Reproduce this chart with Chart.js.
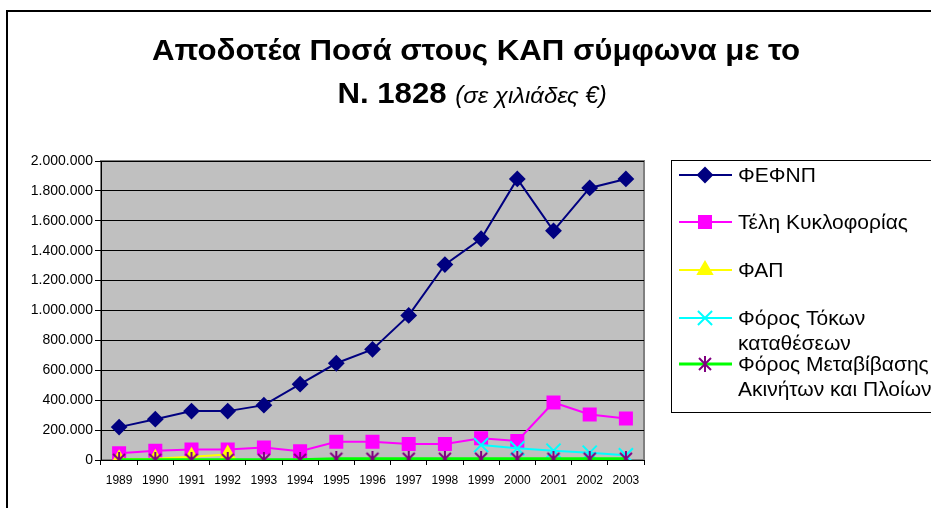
<!DOCTYPE html>
<html>
<head>
<meta charset="utf-8">
<script src="https://cdn.jsdelivr.net/npm/chart.js@4/dist/chart.umd.min.js"></script>
<style>
  html, body { margin: 0; padding: 0; background: #fff; overflow: hidden; }
  canvas { display: block; }
</style>
</head>
<body>
<canvas id="chart" width="931" height="508"></canvas>
<script>
// data (thousands of €)
const years = ['1989', '1990', '1991', '1992', '1993', '1994', '1995', '1996', '1997', '1998', '1999', '2000', '2001', '2002', '2003'];
const seriesNames = ['ΦΕΦΝΠ', 'Τέλη Κυκλοφορίας', 'ΦΑΠ', 'Φόρος Τόκων καταθέσεων', 'Φόρος Μεταβίβασης Ακινήτων και Πλοίων'];
const fefnp = [220000, 273000, 327000, 327000, 367000, 507000, 647000, 740000, 967000, 1307000, 1480000, 1880000, 1533000, 1820000, 1880000];
const teli = [45000, 62000, 71000, 71000, 84000, 58000, 122000, 122000, 107000, 107000, 145000, 127000, 385000, 305000, 278000];
const fap = [5000, 8000, 22000, 37000, null, null, null, null, null, null, null, null, null, null, null];
const tokon = [null, null, null, null, null, null, null, null, null, null, 100000, 78000, 62000, 49000, 31000];
const metav = [1000, 1000, 1000, 1000, 1000, 1000, 8000, 8000, 8000, 8000, 8000, 8000, 8000, 8000, 8000];
const yTicks = [0, 200000, 400000, 600000, 800000, 1000000, 1200000, 1400000, 1600000, 1800000, 2000000];

const FONT = '"Liberation Sans", Arial, sans-serif';

// Excel style asterisk marker (X plus vertical bar)
function asterisk(color) {
    const c = document.createElement('canvas');
    c.width = 16;
    c.height = 16;
    const g = c.getContext('2d');
    g.strokeStyle = color;
    g.lineWidth = 2;
    g.beginPath();
    g.moveTo(2, 2); g.lineTo(14, 14);
    g.moveTo(14, 2); g.lineTo(2, 14);
    g.moveTo(8, 0); g.lineTo(8, 16);
    g.stroke();
    return c;
}

// styles per series
const styles = [
    { line: '#000080', fill: '#000080', edge: '#000080', shape: 'rectRot', r: 7, lw: 2 },
    { line: '#FF00FF', fill: '#FF00FF', edge: '#FF00FF', shape: 'rect', r: 8.5, lw: 2 },
    { line: '#FFFF00', fill: '#FFFF00', edge: '#FFFF00', shape: 'triangle', r: 8, lw: 2 },
    { line: '#00FFFF', fill: '#00FFFF', edge: '#00FFFF', shape: 'crossRot', r: 10, lw: 2 },
    { line: '#00FF00', fill: '#800080', edge: '#800080', shape: asterisk('#800080'), r: 8, lw: 3 }
];
const values = [fefnp, teli, fap, tokon, metav];

function dots(n) {
    return String(n).replace(/\B(?=(\d{3})+(?!\d))/g, '.');
}

// gray plot area + outer frame
const backdrop = {
    id: 'backdrop',
    beforeDraw(chart) {
        const { ctx, chartArea: a } = chart;
        ctx.save();
        ctx.fillStyle = '#C0C0C0';
        ctx.fillRect(a.left, a.top, a.right - a.left, a.bottom - a.top);
        ctx.strokeStyle = '#808080';
        ctx.lineWidth = 2;
        ctx.strokeRect(a.left, a.top, a.right - a.left, a.bottom - a.top);
        ctx.strokeStyle = '#000';
        ctx.lineWidth = 2;
        ctx.beginPath();
        ctx.moveTo(7, 520);
        ctx.lineTo(7, 11);
        ctx.lineTo(940, 11);
        ctx.stroke();
        ctx.restore();
    }
};

// two-line title with mixed bold / italic
const titlePlugin = {
    id: 'titleText',
    afterDraw(chart) {
        const ctx = chart.ctx;
        ctx.save();
        ctx.fillStyle = '#000';
        ctx.textBaseline = 'alphabetic';

        ctx.font = 'bold 30px ' + FONT;
        const l1 = 'Αποδοτέα Ποσά στους ΚΑΠ σύμφωνα με το';
        const w1 = ctx.measureText(l1).width;
        const sx = 648 / w1;
        ctx.save();
        ctx.translate(476, 60);
        ctx.scale(sx, 1);
        ctx.textAlign = 'center';
        ctx.fillText(l1, 0, 0);
        ctx.restore();

        const a = 'N. 1828 ';
        const b = '(σε χιλιάδες €)';
        ctx.font = 'bold 30px ' + FONT;
        const wa = ctx.measureText(a).width;
        ctx.font = 'italic 23px ' + FONT;
        const wb = ctx.measureText(b).width;
        ctx.save();
        ctx.translate(472, 103);
        ctx.scale(sx, 1);
        ctx.textAlign = 'left';
        const x0 = -(wa + wb) / 2;
        ctx.font = 'bold 30px ' + FONT;
        ctx.fillText(a, x0, 0);
        ctx.font = 'italic 23px ' + FONT;
        ctx.fillText(b, x0 + wa, 0);
        ctx.restore();
        ctx.restore();
    }
};

// Excel-like legend box with line + marker
const legendBox = {
    id: 'legendBox',
    afterDraw(chart) {
        const ctx = chart.ctx;
        ctx.save();
        ctx.fillStyle = '#fff';
        ctx.fillRect(671, 160, 300, 252);
        ctx.strokeStyle = '#000';
        ctx.lineWidth = 1;
        ctx.strokeRect(671.5, 160.5, 300, 252);

        const rows = [
            { y: 175, lines: ['ΦΕΦΝΠ'] },
            { y: 222, lines: ['Τέλη Κυκλοφορίας'] },
            { y: 270, lines: ['ΦΑΠ'] },
            { y: 318, lines: ['Φόρος Τόκων', 'καταθέσεων'] },
            { y: 364, lines: ['Φόρος Μεταβίβασης', 'Ακινήτων και Πλοίων'] }
        ];
        rows.forEach((row, i) => {
            const st = styles[i];
            ctx.strokeStyle = st.line;
            ctx.lineWidth = st.lw;
            ctx.beginPath();
            ctx.moveTo(679, row.y);
            ctx.lineTo(732, row.y);
            ctx.stroke();
            ctx.fillStyle = st.fill;
            ctx.strokeStyle = st.edge;
            ctx.lineWidth = 2;
            Chart.helpers.drawPoint(ctx, { pointStyle: st.shape, radius: st.r, rotation: 0, borderWidth: 2 }, 705, row.y);
            ctx.fillStyle = '#000';
            ctx.font = '21px ' + FONT;
            ctx.textAlign = 'left';
            ctx.textBaseline = 'middle';
            row.lines.forEach((t, k) => ctx.fillText(t, 738, row.y + 1 + k * 25));
        });
        ctx.restore();
    }
};

const datasets = values.map((data, i) => ({
    label: seriesNames[i],
    data: data,
    borderColor: styles[i].line,
    borderWidth: styles[i].lw,
    backgroundColor: styles[i].fill,
    pointStyle: styles[i].shape,
    pointRadius: styles[i].r,
    pointBackgroundColor: styles[i].fill,
    pointBorderColor: styles[i].edge,
    pointBorderWidth: 2,
    tension: 0,
    spanGaps: false,
    order: 5 - i
}));

new Chart(document.getElementById('chart'), {
    type: 'line',
    data: { labels: years, datasets: datasets },
    plugins: [backdrop, titlePlugin, legendBox],
    options: {
        responsive: false,
        animation: false,
        layout: { padding: { left: 0, top: 161, right: 287, bottom: 0 } },
        plugins: {
            legend: { display: false },
            title: { display: false },
            tooltip: { enabled: false }
        },
        scales: {
            x: {
                offset: true,
                afterFit(scale) { scale.height = 48; },
                grid: { offset: true, drawOnChartArea: false, drawTicks: true, tickLength: 5, color: '#000', lineWidth: 1 },
                border: { color: '#000', width: 1 },
                ticks: { color: '#000', font: { family: FONT, size: 12 }, padding: 8, maxRotation: 0, autoSkip: false }
            },
            y: {
                min: 0,
                max: 2000000,
                afterFit(scale) { scale.width = 101; },
                afterBuildTicks(scale) { scale.ticks = yTicks.map(v => ({ value: v })); },
                grid: { color: '#000', lineWidth: 1, drawTicks: true, tickLength: 6 },
                border: { color: '#000', width: 1 },
                ticks: {
                    color: '#000',
                    font: { family: FONT, size: 14 },
                    padding: 2,
                    callback: v => dots(v)
                }
            }
        }
    }
});
</script>
</body>
</html>
